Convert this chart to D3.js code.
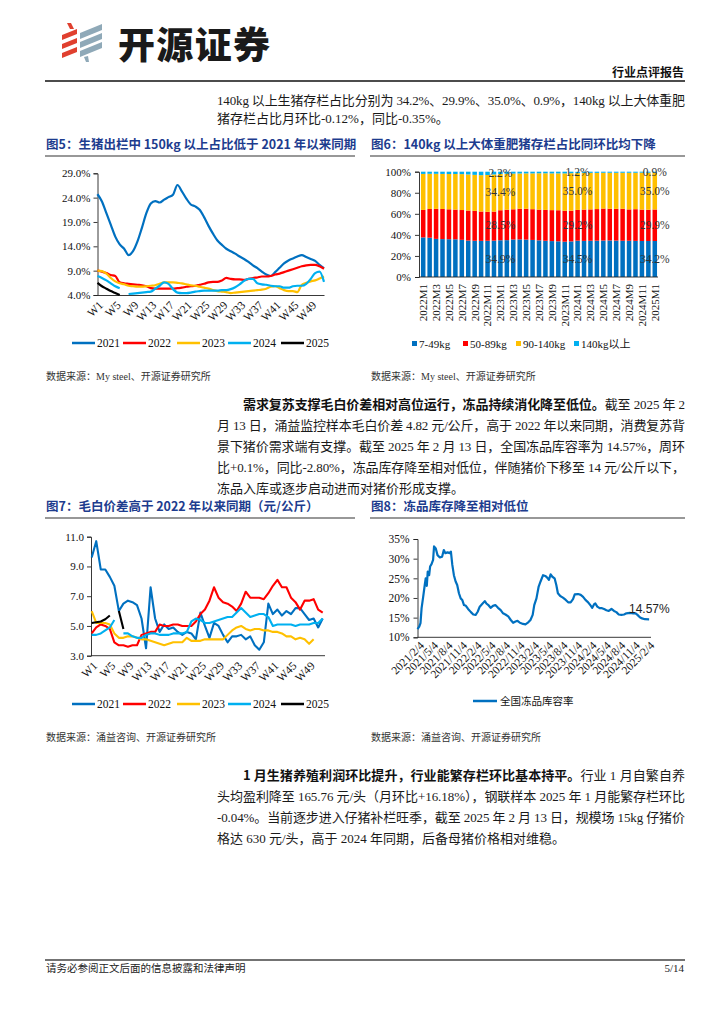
<!DOCTYPE html>
<html><head><meta charset="utf-8">
<script src="https://cdn.jsdelivr.net/npm/d3@7"></script>
<style>body{margin:0;background:#fff}svg{display:block}</style>
</head><body>
<svg id="page" width="724" height="1024"></svg>
<script>
// ---------------- DATA ----------------
const weekLabels = d3.range(1, 53).map(i => "W" + i);
const fig5Years = ["2021", "2022", "2023", "2024", "2025"];
const fig5_2021 = [24.7,23.2,20.8,18.4,16.0,14.4,13.5,12.2,13.0,15.0,17.8,20.8,22.8,23.3,23.0,23.6,24.1,24.6,26.6,25.3,23.8,22.6,22.2,21.5,20.0,18.2,16.6,15.2,14.3,13.5,13.0,12.5,11.9,11.4,10.8,10.1,9.5,8.8,8.2,7.9,8.7,9.6,10.5,11.1,11.5,11.9,12.2,11.8,11.4,11.0,10.2,9.5];
const fig5_2022 = [9.0,8.8,8.5,8.1,7.9,6.6,6.4,6.3,6.2,6.1,6.0,5.8,5.4,5.3,5.3,5.3,5.3,5.3,5.4,5.5,5.7,5.8,5.9,6.1,6.3,6.6,6.7,6.7,7.0,7.5,7.3,7.2,7.2,7.1,7.3,7.5,7.6,7.8,7.8,7.9,8.2,8.4,8.7,9.0,9.3,9.6,9.9,10.1,10.2,10.2,9.9,9.4];
const fig5_2023 = [9.0,8.9,8.4,7.5,6.8,6.4,6.2,5.9,5.8,5.7,5.7,5.8,5.9,6.0,6.3,6.6,6.6,6.6,6.5,6.4,6.2,6.0,5.9,5.7,5.5,5.3,5.0,4.8,4.7,4.6,4.4,4.5,4.6,4.7,4.8,4.9,5.0,5.1,5.3,5.7,5.8,5.4,5.0,4.8,4.8,4.6,6.1,6.5,6.8,7.0,7.4,7.8];
const fig5_2024 = [7.9,7.5,7.0,6.4,5.8,5.4,null,4.2,4.3,4.4,4.5,4.6,4.7,5.3,5.9,6.6,6.3,5.2,4.5,4.4,4.4,4.5,4.7,4.8,4.9,4.9,4.9,4.9,5.0,5.0,5.2,5.6,6.2,6.9,7.3,7.3,6.4,6.2,6.1,5.9,5.8,5.8,5.5,5.5,5.8,5.9,5.9,6.3,7.3,8.5,8.8,6.7];
const fig5_2025 = [6.5,5.8,5.3,4.8,4.4,4.0];
const fig5Ticks = [4, 9, 14, 19, 24, 29];

const fig6Months = [];
[2022, 2023, 2024].forEach(y => { for (let m = 1; m <= 12; m++) fig6Months.push(y + "M" + m); });
fig6Months.push("2025M1");
const fig6Series = ["7-49kg", "50-89kg", "90-140kg", "140kg以上"];
const fig6_7_49 = [37.6,37.3,36.2,36.0,35.9,35.8,35.3,34.6,34.4,34.3,34.4,34.5, 34.9,35.0,35.6,35.7,35.5,35.2,34.8,34.4,34.1,33.9,33.5,33.8, 34.5,34.3,34.4,34.5,34.6,34.7,34.6,34.4,34.4,34.3,34.2,34.2, 34.2];
const fig6_50_89 = [26.1,27.3,28.5,28.6,28.4,28.2,28.3,28.5,28.4,27.9,27.5,27.6, 28.5,28.9,28.7,29.1,29.3,29.2,29.2,29.3,29.4,29.5,29.4,29.2, 29.2,29.7,29.8,30.0,30.4,30.1,30.1,30.4,29.8,30.1,29.8,29.7, 29.9];
const fig6_90_140 = [34.2,33.4,33.3,33.3,33.5,33.8,34.1,34.3,34.2,34.5,35.0,35.3, 34.4,34.1,33.9,33.5,33.6,34.0,34.5,34.8,34.9,35.0,35.5,35.6, 35.0,34.9,34.7,34.4,34.0,34.2,34.3,34.2,34.8,34.6,35.1,35.2, 35.0];
const fig6_140up = [2.1,2.0,2.0,2.1,2.2,2.2,2.3,2.6,3.0,3.3,3.1,2.6, 2.2,2.0,1.8,1.7,1.6,1.6,1.5,1.5,1.6,1.6,1.6,1.4, 1.2,1.1,1.1,1.1,1.0,1.0,1.0,1.0,1.0,1.0,0.9,0.9, 0.9];
const fig6LabelMonths = ["2023M1", "2024M1", "2025M1"];
const fig6Ticks = [0, 20, 40, 60, 80, 100];

const fig7_2021 = [9.6,10.7,8.8,8.8,8.3,7.7,6.0,6.5,6.7,6.6,6.4,5.5,3.5,7.6,5.5,4.6,5.1,4.8,4.9,4.6,4.4,4.6,4.5,4.1,5.9,5.0,4.2,5.2,5.0,4.4,3.9,4.3,4.3,4.4,4.1,4.3,3.7,3.4,3.9,6.5,5.8,6.1,5.7,6.0,5.8,6.2,6.2,5.8,5.4,5.5,4.9,5.5];
const fig7_2022 = [4.5,4.9,5.1,5.0,4.8,3.9,3.7,3.7,3.6,3.7,3.7,4.4,4.5,4.6,4.6,5.1,5.0,5.0,5.1,5.1,5.0,5.0,5.0,5.3,5.8,6.1,6.7,7.6,6.9,6.6,6.5,6.3,6.0,6.5,7.3,6.9,6.9,6.9,6.8,7.2,7.7,8.1,7.6,7.6,6.9,6.6,6.1,6.7,6.7,6.8,6.1,5.9];
const fig7_2023 = [6.0,5.2,5.2,5.2,5.1,4.5,4.2,4.2,4.3,4.3,4.2,4.1,4.1,4.0,3.9,3.8,3.7,3.8,3.9,3.9,3.9,4.2,4.0,4.0,4.0,4.1,4.1,4.1,4.1,4.1,4.4,4.7,4.9,5.0,4.8,4.7,4.8,4.8,4.7,4.7,4.6,4.6,4.5,4.3,4.3,4.1,4.2,4.1,3.8,4.1];
const fig7_2024 = [4.4,4.4,4.5,4.7,4.9,5.4,null,4.5,4.5,4.3,4.2,4.2,4.4,4.5,4.5,4.4,4.4,4.4,4.5,4.5,4.5,4.6,5.3,5.5,5.4,5.2,5.2,5.3,5.4,5.5,5.6,5.6,5.9,6.2,5.9,5.6,5.7,5.8,5.8,5.6,5.0,5.1,5.1,5.1,5.1,5.0,5.1,5.1,5.1,5.2,5.2,5.5];
const fig7_2025 = [5.2,5.25,5.3,5.45,5.7,null,6.0,4.8];
const fig7Ticks = [3, 5, 7, 9, 11];

const fig8Dates = ["2021-02-04","2021-02-15","2021-02-23","2021-03-02","2021-03-12","2021-03-22","2021-03-28","2021-04-04","2021-04-10","2021-04-19","2021-04-25","2021-05-04","2021-05-14","2021-05-20","2021-05-31","2021-06-11","2021-06-26","2021-07-10","2021-07-21","2021-07-31","2021-08-14","2021-08-28","2021-09-04","2021-09-13","2021-09-23","2021-10-04","2021-10-14","2021-10-25","2021-11-05","2021-11-15","2021-11-26","2021-12-08","2021-12-22","2022-01-09","2022-01-24","2022-02-08","2022-02-21","2022-03-06","2022-03-20","2022-04-07","2022-04-17","2022-05-02","2022-05-14","2022-05-29","2022-06-13","2022-06-30","2022-07-17","2022-08-01","2022-08-16","2022-09-03","2022-09-19","2022-10-04","2022-10-19","2022-11-01","2022-11-16","2022-12-06","2022-12-21","2023-01-08","2023-01-22","2023-02-05","2023-02-15","2023-03-01","2023-03-15","2023-03-27","2023-04-12","2023-04-26","2023-05-08","2023-05-19","2023-05-30","2023-06-10","2023-06-24","2023-07-05","2023-07-15","2023-07-30","2023-08-16","2023-09-03","2023-09-18","2023-10-04","2023-10-19","2023-10-30","2023-11-20","2023-12-07","2023-12-22","2024-01-06","2024-01-23","2024-02-07","2024-02-18","2024-03-01","2024-03-09","2024-03-21","2024-04-05","2024-04-20","2024-05-03","2024-05-18","2024-06-02","2024-06-19","2024-07-05","2024-07-20","2024-08-04","2024-08-21","2024-09-07","2024-09-22","2024-10-13","2024-11-04","2024-11-19","2024-12-01","2024-12-16","2024-12-30","2025-01-17","2025-02-13"];
const fig8Values = [12.1,12.7,13.6,17.4,20.3,23.3,25.0,23.1,26.7,25.8,28.0,28.6,29.7,33.1,32.6,30.9,30.3,30.5,32.2,31.4,31.6,31.4,31.8,28.4,25.8,24.2,23.3,21.2,19.9,19.5,18.2,18.0,17.2,16.4,15.8,15.7,16.5,17.8,18.4,19.2,18.6,18.1,17.5,18.0,18.2,17.5,16.9,16.1,15.8,15.3,14.4,13.7,14.0,14.2,13.7,13.4,13.3,13.8,14.4,15.7,18.2,19.9,22.9,24.2,25.8,25.6,25.2,24.6,26.0,25.4,25.0,23.3,21.2,20.5,20.1,19.5,18.9,18.9,19.7,20.9,21.0,20.8,20.3,19.5,18.9,18.1,17.5,18.4,18.6,17.8,17.4,17.4,17.2,16.9,16.7,17.2,16.7,16.4,15.8,15.7,15.8,16.1,16.2,16.1,16.1,15.7,15.1,14.8,14.6,14.57];
const fig8TickDates = ["2021-02-04","2021-05-04","2021-08-04","2021-11-04","2022-02-04","2022-05-04","2022-08-04","2022-11-04","2023-02-04","2023-05-04","2023-08-04","2023-11-04","2024-02-04","2024-05-04","2024-08-04","2024-11-04","2025-02-04"];
const fig8Ticks = [10, 15, 20, 25, 30, 35];
const fig8Name = "全国冻品库容率";
const fig8Last = "14.57%";

// ---------------- STYLE ----------------
const SERIF = "'Liberation Serif','Times New Roman','Noto Sans CJK SC',serif";
const SANS = "'Noto Sans CJK SC','Liberation Sans',sans-serif";
const TXT = "#1a1a1a";
const TITLE = "#1d3c8e";
const lineColors = {"2021": "#0070C0", "2022": "#FF0000", "2023": "#FFC000", "2024": "#00B0F0", "2025": "#000000"};
const barColors = ["#0070C0", "#FF0000", "#FFC000", "#00B0F0"];

const svg = d3.select("#page");

function text(g, x, y, s, o = {}) {
  const t = g.append("text").attr("x", x).attr("y", y).text(s)
    .attr("font-family", o.ff || SERIF).attr("font-size", o.fs || 13)
    .attr("fill", o.fill || TXT);
  if (o.fw) t.attr("font-weight", o.fw);
  if (o.anchor) t.attr("text-anchor", o.anchor);
  if (o.len) t.attr("textLength", o.len).attr("lengthAdjust", "spacing");
  return t;
}
function mixed(x, y, parts, len) {
  const t = svg.append("text").attr("x", x).attr("y", y)
    .attr("font-family", SERIF).attr("font-size", 13).attr("fill", TXT);
  parts.forEach(p => {
    const s = t.append("tspan").text(p.t);
    if (p.b) s.attr("font-weight", "bold").attr("font-family", SANS).attr("fill", "#111");
  });
  if (len) t.attr("textLength", len).attr("lengthAdjust", "spacing");
  return t;
}

// ---------------- HEADER ----------------
const logo = svg.append("g");
const red = "#E0402F", grey = "#8FA9B8";
[[ [67,23],[71,23],[74,29],[70,29] ],
 [ [62,35],[77,29],[77,34],[62,40] ],
 [ [62,44],[77,38],[77,43],[62,49] ],
 [ [62,53],[77,47],[77,52],[62,58] ]].forEach(p => logo.append("polygon").attr("points", p.join(" ")).attr("fill", red));
[[ [80,33],[102,24],[102,30],[80,39] ],
 [ [80,42],[102,33],[102,39],[80,48] ],
 [ [80,51],[102,42],[102,48],[80,57] ],
 [ [84,57],[88,56],[89,62],[86,62] ]].forEach(p => logo.append("polygon").attr("points", p.join(" ")).attr("fill", grey));
text(svg, 118, 59, "开源证券", {ff: SANS, fs: 37, fw: 900, fill: "#1a1a1a", len: 152});
text(svg, 684, 77, "行业点评报告", {ff: SANS, fs: 12, fw: "bold", anchor: "end", fill: "#111"});
svg.append("line").attr("x1", 45).attr("x2", 685).attr("y1", 81).attr("y2", 81).attr("stroke", "#111").attr("stroke-width", 1.4);

// paragraph 1
text(svg, 217, 104.5, "140kg 以上生猪存栏占比分别为 34.2%、29.9%、35.0%、0.9%，140kg 以上大体重肥", {len: 468});
text(svg, 217, 122.5, "猪存栏占比月环比-0.12%，同比-0.35%。");

// figure titles row 1
function figTitle(x, y, s, x2) {
  text(svg, x, y, s, {ff: SANS, fs: 12.5, fw: "bold", fill: TITLE});
  svg.append("line").attr("x1", x - 1).attr("x2", x2).attr("y1", y + 7).attr("y2", y + 7).attr("stroke", "#333").attr("stroke-width", 1.2);
}
figTitle(46, 149, "图5：生猪出栏中 150kg 以上占比低于 2021 年以来同期", 355);
figTitle(371, 149, "图6：140kg 以上大体重肥猪存栏占比同环比均下降", 685);

function styleAxis(g, fs) {
  g.selectAll("path.domain").attr("stroke", "#222").attr("stroke-width", 0.9);
  g.selectAll(".tick line").attr("stroke", "#222").attr("stroke-width", 0.9);
  g.selectAll("text").attr("font-family", SERIF).attr("font-size", fs || 11).attr("fill", "#111");
}

function legendLines(g, ly) {
  const lx = [72, 123, 177, 228, 281];
  fig5Years.forEach((yr, k) => {
    g.append("line").attr("x1", lx[k]).attr("x2", lx[k] + 23).attr("y1", ly).attr("y2", ly)
      .attr("stroke", lineColors[yr]).attr("stroke-width", 2.5);
    text(g, lx[k] + 25, ly + 4, yr, {fs: 11.5, fill: "#111"});
  });
}

// ---------------- FIG 5 ----------------
(function () {
  const g = svg.append("g");
  const x = d3.scaleLinear().domain([0, 51]).range([97.5, 324]);
  const y = d3.scaleLinear().domain([4, 29]).range([295, 173.3]);
  const ya = g.append("g").attr("transform", "translate(97.5,0)")
    .call(d3.axisLeft(y).tickValues(fig5Ticks).tickFormat(d => d.toFixed(1) + "%").tickSize(4).tickPadding(3));
  styleAxis(ya);
  const xa = g.append("g").attr("transform", "translate(0,295)")
    .call(d3.axisBottom(x).tickValues(d3.range(0, 52, 4)).tickFormat(i => weekLabels[i]).tickSize(0));
  styleAxis(xa, 11.5);
  xa.selectAll("text").attr("text-anchor", "end").attr("x", 0).attr("y", 0).attr("dy", "0.35em")
    .attr("transform", "translate(3,8) rotate(-45)");
  const series = [fig5_2021, fig5_2022, fig5_2023, fig5_2024, fig5_2025];
  const line = d3.line().defined(d => d != null).x((d, i) => x(i)).y(d => y(d)).curve(d3.curveMonotoneX);
  series.forEach((s, k) => {
    g.append("path").datum(s).attr("d", line).attr("fill", "none")
      .attr("stroke", lineColors[fig5Years[k]]).attr("stroke-width", 2.2).attr("stroke-linejoin", "round");
  });
  legendLines(g, 343);
})();

// ---------------- FIG 6 ----------------
(function () {
  const g = svg.append("g");
  const x = d3.scaleBand().domain(fig6Months).range([420, 658]).paddingInner(0.3).paddingOuter(0.15);
  const y = d3.scaleLinear().domain([0, 100]).range([277, 171.7]);
  const rows = fig6Months.map((m, i) => ({m, "7-49kg": fig6_7_49[i], "50-89kg": fig6_50_89[i], "90-140kg": fig6_90_140[i], "140kg以上": fig6_140up[i]}));
  const stack = d3.stack().keys(fig6Series)(rows);
  stack.forEach((layer, k) => {
    g.append("g").selectAll("rect").data(layer).join("rect")
      .attr("x", d => x(d.data.m)).attr("width", x.bandwidth())
      .attr("y", d => y(d[1])).attr("height", d => y(d[0]) - y(d[1]))
      .attr("fill", barColors[k]);
  });
  const ya = g.append("g").attr("transform", "translate(419,0)")
    .call(d3.axisLeft(y).tickValues(fig6Ticks).tickFormat(d => d + "%").tickSize(4).tickPadding(4));
  styleAxis(ya);
  const xa = g.append("g").attr("transform", "translate(0,277)")
    .call(d3.axisBottom(x).tickValues(fig6Months.filter((m, i) => i % 2 === 0)).tickSize(0));
  styleAxis(xa);
  xa.select("path.domain").attr("d", "M419,0H658");
  xa.selectAll("text").attr("text-anchor", "end").attr("x", 0).attr("y", 0).attr("dy", "0.35em")
    .attr("transform", "translate(0,7) rotate(-90)");
  // data labels
  stack.forEach(layer => {
    layer.filter(d => fig6LabelMonths.includes(d.data.m)).forEach(d => {
      const v = d.data[layer.key];
      text(g, x(d.data.m) + x.bandwidth() / 2, y((d[0] + d[1]) / 2) + 4, v.toFixed(1) + "%",
        {fs: 11.5, anchor: "middle", fill: "#333"});
    });
  });
  // legend
  const lx = [412, 463, 516, 574];
  fig6Series.forEach((s, k) => {
    g.append("rect").attr("x", lx[k]).attr("y", 341).attr("width", 5).attr("height", 5).attr("fill", barColors[k]);
    text(g, lx[k] + 7, 347.5, s, {fs: 11, fill: "#111"});
  });
})();

text(svg, 46, 380, "数据来源：My steel、开源证券研究所", {fs: 10, fill: "#333"});
text(svg, 371, 380, "数据来源：My steel、开源证券研究所", {fs: 10, fill: "#333"});

// paragraph 2
mixed(243, 408.5, [{t: "需求复苏支撑毛白价差相对高位运行，冻品持续消化降至低位。", b: true}, {t: "截至 2025 年 2"}], 442);
text(svg, 217, 429.5, "月 13 日，涌益监控样本毛白价差 4.82 元/公斤，高于 2022 年以来同期，消费复苏背", {len: 468});
text(svg, 217, 450.5, "景下猪价需求端有支撑。截至 2025 年 2 月 13 日，全国冻品库容率为 14.57%，周环", {len: 468});
text(svg, 217, 471.5, "比+0.1%，同比-2.80%，冻品库存降至相对低位，伴随猪价下移至 14 元/公斤以下，", {len: 468});
text(svg, 217, 492.5, "冻品入库或逐步启动进而对猪价形成支撑。");

figTitle(46, 511, "图7：毛白价差高于 2022 年以来同期（元/公斤）", 355);
figTitle(371, 511, "图8：冻品库存降至相对低位", 685);

// ---------------- FIG 7 ----------------
(function () {
  const g = svg.append("g");
  const x = d3.scaleLinear().domain([0, 51]).range([91.7, 322.7]);
  const y = d3.scaleLinear().domain([3, 11]).range([655.7, 536.7]);
  const ya = g.append("g").attr("transform", "translate(91,0)")
    .call(d3.axisLeft(y).tickValues(fig7Ticks).tickFormat(d => d.toFixed(1)).tickSize(4).tickPadding(3));
  styleAxis(ya);
  const xa = g.append("g").attr("transform", "translate(0,655.7)")
    .call(d3.axisBottom(x).tickValues(d3.range(0, 52, 4)).tickFormat(i => weekLabels[i]).tickSize(0));
  styleAxis(xa, 11.5);
  xa.select("path.domain").attr("d", "M91,0H325");
  xa.selectAll("text").attr("text-anchor", "end").attr("x", 0).attr("y", 0).attr("dy", "0.35em")
    .attr("transform", "translate(3,8) rotate(-45)");
  const series = [fig7_2021, fig7_2022, fig7_2023, fig7_2024, fig7_2025];
  const line = d3.line().defined(d => d != null).x((d, i) => x(i)).y(d => y(d));
  series.forEach((s, k) => {
    g.append("path").datum(s).attr("d", line).attr("fill", "none")
      .attr("stroke", lineColors[fig5Years[k]]).attr("stroke-width", 2.1).attr("stroke-linejoin", "round");
  });
  legendLines(g, 704);
})();

// ---------------- FIG 8 ----------------
(function () {
  const g = svg.append("g");
  const parse = d3.timeParse("%Y-%m-%d");
  const pts = fig8Dates.map((d, i) => ({d: parse(d), v: fig8Values[i]}));
  const ticks = fig8TickDates.map(parse);
  const x = d3.scaleTime().domain([ticks[0], ticks[ticks.length - 1]]).range([417.5, 647.7]);
  const y = d3.scaleLinear().domain([10, 35]).range([637.3, 539]);
  const ya = g.append("g").attr("transform", "translate(417.5,0)")
    .call(d3.axisLeft(y).tickValues(fig8Ticks).tickFormat(d => d + "%").tickSize(4).tickPadding(4));
  styleAxis(ya, 11.5);
  const fmt = d => d.getFullYear() + "/" + (d.getMonth() + 1) + "/" + d.getDate();
  const xa = g.append("g").attr("transform", "translate(0,637.3)")
    .call(d3.axisBottom(x).tickValues(ticks).tickFormat(fmt).tickSize(0));
  styleAxis(xa, 11.5);
  xa.select("path.domain").attr("d", "M417.5,0H651");
  xa.selectAll("text").attr("text-anchor", "end").attr("x", 0).attr("y", 0).attr("dy", "0.35em")
    .attr("transform", "translate(4,6) rotate(-45)");
  const line = d3.line().x(p => x(p.d)).y(p => y(p.v));
  g.append("path").datum(pts).attr("d", line).attr("fill", "none")
    .attr("stroke", "#0070C0").attr("stroke-width", 2.2).attr("stroke-linejoin", "round");
  text(g, 629, 613, fig8Last, {ff: "'Liberation Sans',Arial,sans-serif", fs: 12, fill: "#222"});
  g.append("line").attr("x1", 473).attr("x2", 497).attr("y1", 701).attr("y2", 701).attr("stroke", "#0070C0").attr("stroke-width", 2.5);
  text(g, 500, 705, fig8Name, {fs: 10.5, fill: "#111"});
})();

text(svg, 46, 741, "数据来源：涌益咨询、开源证券研究所", {fs: 10, fill: "#333"});
text(svg, 371, 741, "数据来源：涌益咨询、开源证券研究所", {fs: 10, fill: "#333"});

// paragraph 3
mixed(243, 779.5, [{t: "1 月生猪养殖利润环比提升，行业能繁存栏环比基本持平。", b: true}, {t: "行业 1 月自繁自养"}], 442);
text(svg, 217, 800.5, "头均盈利降至 165.76 元/头（月环比+16.18%），钢联样本 2025 年 1 月能繁存栏环比", {len: 468});
text(svg, 217, 821.5, "-0.04%。当前逐步进入仔猪补栏旺季，截至 2025 年 2 月 13 日，规模场 15kg 仔猪价", {len: 468});
text(svg, 217, 842.5, "格达 630 元/头，高于 2024 年同期，后备母猪价格相对维稳。");

// footer
svg.append("line").attr("x1", 45).attr("x2", 685).attr("y1", 960).attr("y2", 960).attr("stroke", "#444").attr("stroke-width", 1.4);
text(svg, 46, 972, "请务必参阅正文后面的信息披露和法律声明", {fs: 10.5, fill: "#222"});
text(svg, 684, 972, "5/14", {fs: 11, anchor: "end", fill: "#222"});
</script>
</body></html>
